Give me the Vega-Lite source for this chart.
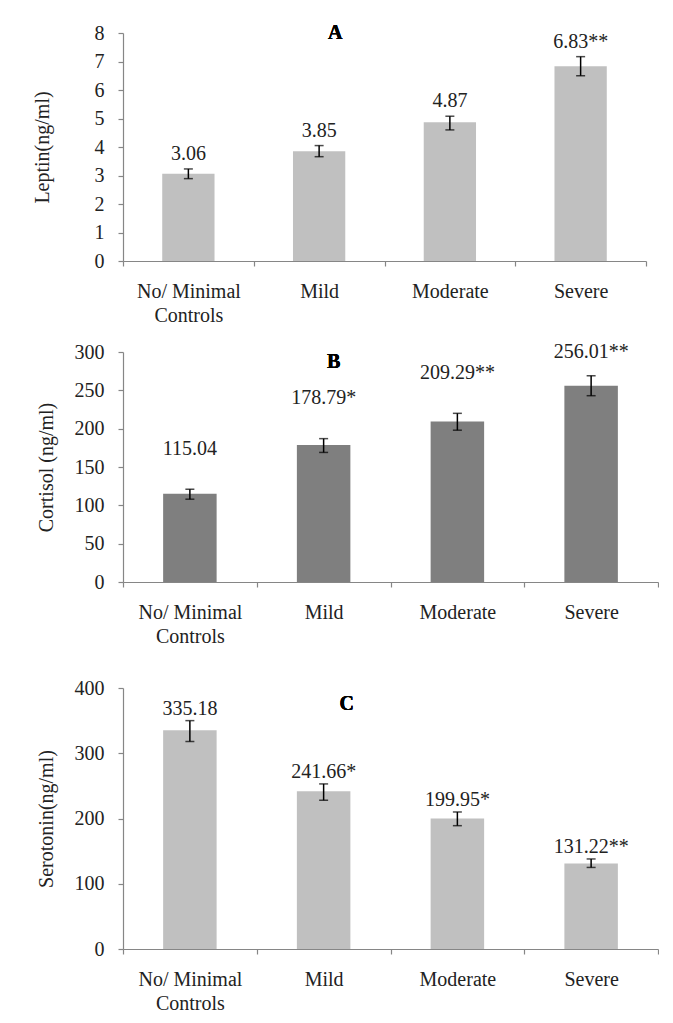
{
  "$schema": "https://vega.github.io/schema/vega-lite/v6.json",
  "padding": {"left": 32, "top": 23, "right": 0, "bottom": 0},
  "datasets": {
    "leptin": [
      {"group": "No/ Minimal Controls", "value": 3.06, "lo": 2.89, "hi": 3.23, "label": "3.06"},
      {"group": "Mild", "value": 3.85, "lo": 3.66, "hi": 4.05, "label": "3.85"},
      {"group": "Moderate", "value": 4.87, "lo": 4.6, "hi": 5.08, "label": "4.87"},
      {"group": "Severe", "value": 6.83, "lo": 6.5, "hi": 7.17, "label": "6.83**"}
    ],
    "cortisol": [
      {"group": "No/ Minimal Controls", "value": 115.04, "lo": 108, "hi": 121, "label": "115.04"},
      {"group": "Mild", "value": 178.79, "lo": 169, "hi": 187, "label": "178.79*"},
      {"group": "Moderate", "value": 209.29, "lo": 198, "hi": 220, "label": "209.29**"},
      {"group": "Severe", "value": 256.01, "lo": 243, "hi": 269, "label": "256.01**"}
    ],
    "serotonin": [
      {"group": "No/ Minimal Controls", "value": 335.18, "lo": 318, "hi": 350, "label": "335.18"},
      {"group": "Mild", "value": 241.66, "lo": 228, "hi": 253, "label": "241.66*"},
      {"group": "Moderate", "value": 199.95, "lo": 189, "hi": 210, "label": "199.95*"},
      {"group": "Severe", "value": 131.22, "lo": 125, "hi": 138, "label": "131.22**"}
    ]
  },
  "spacing": 17,
  "vconcat": [
    {
      "width": 523,
      "height": 228,
      "data": {"name": "leptin"},
      "encoding": {
        "x": {
          "field": "group", "type": "nominal", "sort": null,
          "scale": {"paddingInner": 0, "paddingOuter": 0},
          "axis": {"title": null, "labelAngle": 0, "tickBand": "extent",
                   "labelExpr": "datum.value == 'No/ Minimal Controls' ? ['No/ Minimal', 'Controls'] : datum.value"}
        }
      },
      "layer": [
        {
          "mark": {"type": "bar", "color": "#c0c0c0", "width": {"band": 0.4}},
          "encoding": {
            "y": {"field": "value", "type": "quantitative",
                  "scale": {"domain": [0, 8], "nice": false},
                  "axis": {"title": "Leptin(ng/ml)", "values": [0,1,2,3,4,5,6,7,8], "labelOverlap": false, "titlePadding": 42}}
          }
        },
        {
          "mark": {"type": "rule", "color": "#000000", "strokeWidth": 1.5},
          "encoding": {"y": {"field": "lo", "type": "quantitative", "axis": {"title": "Leptin(ng/ml)", "values": [0,1,2,3,4,5,6,7,8], "labelOverlap": false, "titlePadding": 42}}, "y2": {"field": "hi"}}
        },
        {
          "mark": {"type": "tick", "color": "#000000", "size": 9, "thickness": 1.5},
          "encoding": {"y": {"field": "lo", "type": "quantitative", "axis": {"title": "Leptin(ng/ml)", "values": [0,1,2,3,4,5,6,7,8], "labelOverlap": false, "titlePadding": 42}}}
        },
        {
          "mark": {"type": "tick", "color": "#000000", "size": 9, "thickness": 1.5},
          "encoding": {"y": {"field": "hi", "type": "quantitative", "axis": {"title": "Leptin(ng/ml)", "values": [0,1,2,3,4,5,6,7,8], "labelOverlap": false, "titlePadding": 42}}}
        },
        {
          "mark": {"type": "text", "baseline": "middle", "dy": -15, "fontSize": 20, "color": "#222222"},
          "encoding": {"y": {"field": "hi", "type": "quantitative", "axis": {"title": "Leptin(ng/ml)", "values": [0,1,2,3,4,5,6,7,8], "labelOverlap": false, "titlePadding": 42}}, "text": {"field": "label"}}
        },
        {
          "mark": {"type": "text", "baseline": "middle", "fontSize": 20, "fontWeight": "bold", "color": "#000000", "dx": 16},
          "encoding": {"x": {"datum": "Mild"}, "y": {"datum": 8, "type": "quantitative", "axis": {"title": "Leptin(ng/ml)", "values": [0,1,2,3,4,5,6,7,8], "labelOverlap": false, "titlePadding": 42}}, "text": {"value": "A"}}
        }
      ]
    },
    {
      "spacing": 32,
      "vconcat": [
        {
          "width": 535,
          "height": 230,
          "data": {"name": "cortisol"},
          "encoding": {
            "x": {
              "field": "group", "type": "nominal", "sort": null,
              "scale": {"paddingInner": 0, "paddingOuter": 0},
              "axis": {"title": null, "labelAngle": 0, "tickBand": "extent",
                       "labelExpr": "datum.value == 'No/ Minimal Controls' ? ['No/ Minimal', 'Controls'] : datum.value"}
            }
          },
          "layer": [
            {
              "layer": [
                {
                  "mark": {"type": "bar", "color": "#7f7f7f", "width": {"band": 0.4}},
                  "encoding": {
                    "y": {"field": "value", "type": "quantitative",
                          "scale": {"domain": [0, 300], "nice": false},
                          "axis": {"title": "Cortisol (ng/ml)", "values": [0,50,100,150,200,250,300], "labelOverlap": false, "titlePadding": 18}}
                  }
                },
                {
                  "mark": {"type": "rule", "color": "#000000", "strokeWidth": 1.5},
                  "encoding": {"y": {"field": "lo", "type": "quantitative", "axis": {"title": "Cortisol (ng/ml)", "values": [0,50,100,150,200,250,300], "labelOverlap": false, "titlePadding": 18}}, "y2": {"field": "hi"}}
                },
                {
                  "mark": {"type": "tick", "color": "#000000", "size": 9, "thickness": 1.5},
                  "encoding": {"y": {"field": "lo", "type": "quantitative", "axis": {"title": "Cortisol (ng/ml)", "values": [0,50,100,150,200,250,300], "labelOverlap": false, "titlePadding": 18}}}
                },
                {
                  "mark": {"type": "tick", "color": "#000000", "size": 9, "thickness": 1.5},
                  "encoding": {"y": {"field": "hi", "type": "quantitative", "axis": {"title": "Cortisol (ng/ml)", "values": [0,50,100,150,200,250,300], "labelOverlap": false, "titlePadding": 18}}}
                },
                {
                  "mark": {"type": "text", "baseline": "middle", "fontSize": 20, "fontWeight": "bold", "color": "#000000", "dx": 10},
                  "encoding": {"x": {"datum": "Mild"}, "y": {"datum": 287, "type": "quantitative", "axis": {"title": "Cortisol (ng/ml)", "values": [0,50,100,150,200,250,300], "labelOverlap": false, "titlePadding": 18}}, "text": {"value": "B"}}
                }
              ]
            },
            {
              "mark": {"type": "text", "baseline": "middle", "fontSize": 20, "color": "#222222"},
              "encoding": {
                "y": {"field": "hi", "type": "quantitative",
                      "scale": {"domain": [-53, 247], "nice": false, "clamp": true}, "axis": null},
                "text": {"field": "label"}
              }
            }
          ],
          "resolve": {"scale": {"y": "independent"}}
        },
        {
          "width": 535,
          "height": 261,
          "data": {"name": "serotonin"},
          "encoding": {
            "x": {
              "field": "group", "type": "nominal", "sort": null,
              "scale": {"paddingInner": 0, "paddingOuter": 0},
              "axis": {"title": null, "labelAngle": 0, "tickBand": "extent",
                       "labelExpr": "datum.value == 'No/ Minimal Controls' ? ['No/ Minimal', 'Controls'] : datum.value"}
            }
          },
          "layer": [
            {
              "mark": {"type": "bar", "color": "#c0c0c0", "width": {"band": 0.4}},
              "encoding": {
                "y": {"field": "value", "type": "quantitative",
                      "scale": {"domain": [0, 400], "nice": false},
                      "axis": {"title": "Serotonin(ng/ml)", "values": [0,100,200,300,400], "labelOverlap": false, "titlePadding": 18}}
              }
            },
            {
              "mark": {"type": "rule", "color": "#000000", "strokeWidth": 1.5},
              "encoding": {"y": {"field": "lo", "type": "quantitative", "axis": {"title": "Serotonin(ng/ml)", "values": [0,100,200,300,400], "labelOverlap": false, "titlePadding": 18}}, "y2": {"field": "hi"}}
            },
            {
              "mark": {"type": "tick", "color": "#000000", "size": 9, "thickness": 1.5},
              "encoding": {"y": {"field": "lo", "type": "quantitative", "axis": {"title": "Serotonin(ng/ml)", "values": [0,100,200,300,400], "labelOverlap": false, "titlePadding": 18}}}
            },
            {
              "mark": {"type": "tick", "color": "#000000", "size": 9, "thickness": 1.5},
              "encoding": {"y": {"field": "hi", "type": "quantitative", "axis": {"title": "Serotonin(ng/ml)", "values": [0,100,200,300,400], "labelOverlap": false, "titlePadding": 18}}}
            },
            {
              "mark": {"type": "text", "baseline": "middle", "dy": -12, "fontSize": 20, "color": "#222222"},
              "encoding": {"y": {"field": "hi", "type": "quantitative", "axis": {"title": "Serotonin(ng/ml)", "values": [0,100,200,300,400], "labelOverlap": false, "titlePadding": 18}}, "text": {"field": "label"}}
            },
            {
              "mark": {"type": "text", "baseline": "middle", "fontSize": 20, "fontWeight": "bold", "color": "#000000", "dx": 23},
              "encoding": {"x": {"datum": "Mild"}, "y": {"datum": 376, "type": "quantitative", "axis": {"title": "Serotonin(ng/ml)", "values": [0,100,200,300,400], "labelOverlap": false, "titlePadding": 18}}, "text": {"value": "C"}}
            }
          ]
        }
      ]
    }
  ],
  "config": {
    "font": "Liberation Serif",
    "view": {"stroke": null},
    "axis": {
      "labelFont": "Liberation Serif", "titleFont": "Liberation Serif",
      "labelFontSize": 20, "titleFontSize": 20, "titleFontWeight": "normal",
      "labelColor": "#222222", "titleColor": "#222222",
      "domainColor": "#868686", "tickColor": "#868686", "domainWidth": 1.2, "tickWidth": 1.2,
      "grid": false, "tickSize": 5, "labelOverlap": false
    },
    "axisY": {"labelPadding": 14},
    "axisX": {"labelPadding": 15, "labelLineHeight": 24}
  }
}
